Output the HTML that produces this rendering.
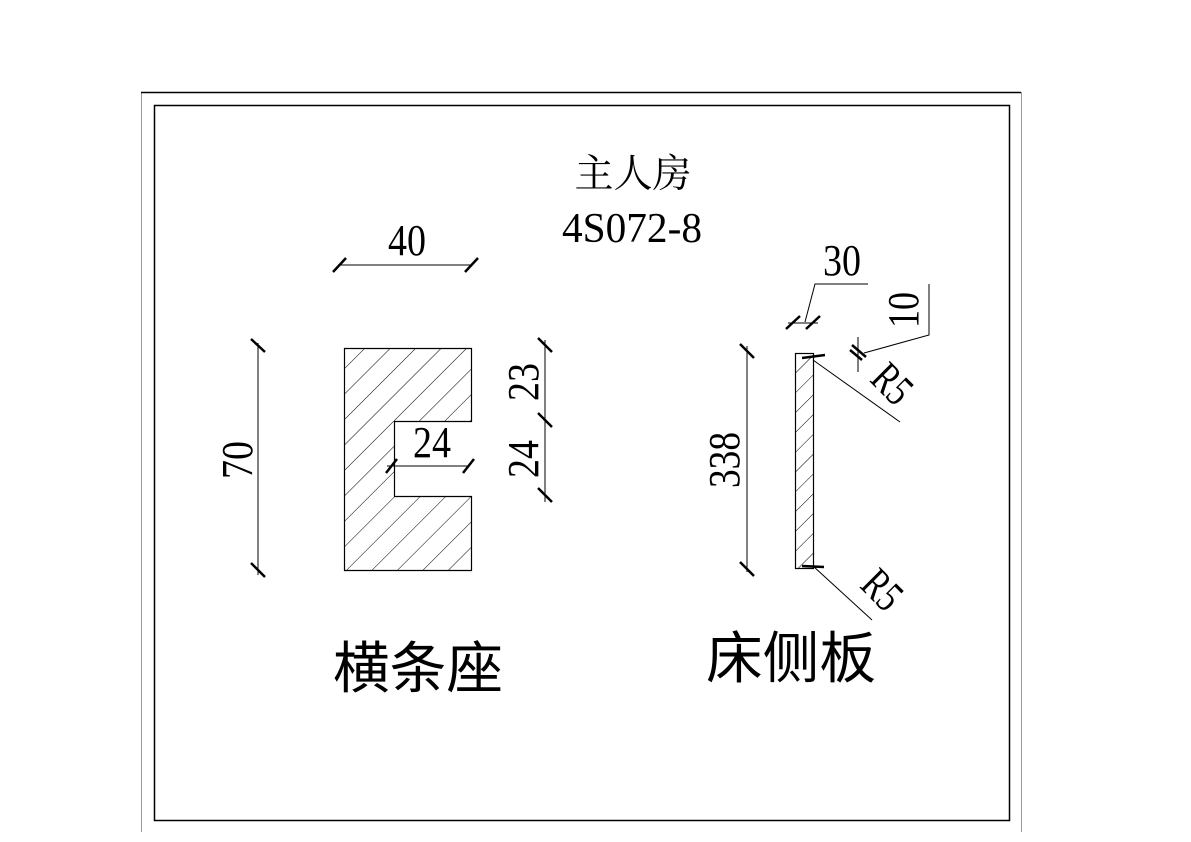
<!DOCTYPE html>
<html><head><meta charset="utf-8"><style>
html,body{margin:0;padding:0;background:#fff;}
svg{display:block;}
.d{font-family:"Liberation Serif",serif;font-size:44px;fill:#000;}
.c{font-family:"Liberation Serif","Noto Serif CJK SC",serif;fill:#000;}
.s{font-family:"Liberation Sans","Noto Sans CJK SC",sans-serif;fill:#000;}
</style></head><body>
<svg width="1191" height="842" viewBox="0 0 1191 842" xmlns="http://www.w3.org/2000/svg">
<defs>
<pattern id="h1" patternUnits="userSpaceOnUse" width="18" height="18" patternTransform="rotate(45)">
<line x1="0" y1="0" x2="0" y2="18" stroke="#000" stroke-width="1"/>
</pattern>
<pattern id="h2" patternUnits="userSpaceOnUse" width="14" height="14" patternTransform="rotate(45)">
<line x1="0" y1="0" x2="0" y2="14" stroke="#000" stroke-width="1"/>
</pattern>
</defs>
<path d="M141.5 832 V92.5 H1021.5 V832" fill="none" stroke="#999" stroke-width="1"/>
<line x1="141" y1="92.5" x2="1021" y2="92.5" stroke="#000" stroke-width="1.5"/>
<rect x="154.5" y="105.5" width="855" height="715" fill="none" stroke="#000" stroke-width="1.5"/>

<text class="c" x="633" y="187" font-size="39" text-anchor="middle" textLength="117" lengthAdjust="spacingAndGlyphs">主人房</text>
<text class="c" x="632" y="242" font-size="42" text-anchor="middle" textLength="140" lengthAdjust="spacingAndGlyphs">4S072-8</text>

<path d="M344.5 348.5 H471.5 V421.5 H394.5 V496.5 H471.5 V570.5 H344.5 Z" fill="url(#h1)" stroke="#000" stroke-width="1.2"/>
<line x1="338" y1="265" x2="472" y2="265" stroke="#000"/>
<line x1="333" y1="272" x2="346" y2="258" stroke="#000" stroke-width="2.5"/>
<line x1="465" y1="272" x2="478" y2="258" stroke="#000" stroke-width="2.5"/>
<text class="d" x="407" y="255" text-anchor="middle" textLength="38" lengthAdjust="spacingAndGlyphs">40</text>
<line x1="258" y1="343" x2="258" y2="575" stroke="#000"/>
<line x1="251" y1="339" x2="265" y2="352" stroke="#000" stroke-width="2.5"/>
<line x1="251" y1="563" x2="265" y2="577" stroke="#000" stroke-width="2.5"/>
<text class="d" transform="translate(252,460) rotate(-90)" text-anchor="middle" textLength="38" lengthAdjust="spacingAndGlyphs">70</text>
<line x1="545" y1="340" x2="545" y2="502" stroke="#000"/>
<line x1="538" y1="338" x2="552" y2="352" stroke="#000" stroke-width="2.5"/>
<line x1="538" y1="413" x2="552" y2="427" stroke="#000" stroke-width="2.5"/>
<line x1="538" y1="488" x2="552" y2="502" stroke="#000" stroke-width="2.5"/>
<text class="d" transform="translate(538,382) rotate(-90)" text-anchor="middle" textLength="38" lengthAdjust="spacingAndGlyphs">23</text>
<text class="d" transform="translate(538,459) rotate(-90)" text-anchor="middle" textLength="38" lengthAdjust="spacingAndGlyphs">24</text>
<line x1="387" y1="466" x2="468" y2="466" stroke="#000"/>
<line x1="386" y1="473" x2="397" y2="459" stroke="#000" stroke-width="2.5"/>
<line x1="463" y1="473" x2="474" y2="459" stroke="#000" stroke-width="2.5"/>
<text class="d" x="432" y="457" text-anchor="middle" textLength="38" lengthAdjust="spacingAndGlyphs">24</text>

<text class="s" x="418" y="688" font-size="56" text-anchor="middle" textLength="170" lengthAdjust="spacingAndGlyphs">横条座</text>

<rect x="795.5" y="353.5" width="18" height="215" fill="url(#h2)" stroke="#000" stroke-width="1.2"/>
<line x1="747" y1="346" x2="747" y2="572" stroke="#000"/>
<line x1="740" y1="344" x2="754" y2="358" stroke="#000" stroke-width="2.5"/>
<line x1="740" y1="562" x2="754" y2="576" stroke="#000" stroke-width="2.5"/>
<text class="d" transform="translate(739,460) rotate(-90)" text-anchor="middle" textLength="56" lengthAdjust="spacingAndGlyphs">338</text>
<line x1="788" y1="323" x2="818" y2="323" stroke="#000"/>
<line x1="786" y1="329" x2="800" y2="316" stroke="#000" stroke-width="2.5"/>
<line x1="806" y1="329" x2="820" y2="316" stroke="#000" stroke-width="2.5"/>
<polyline points="805,322 815,284 868,284" fill="none" stroke="#000"/>
<text class="d" x="842" y="275" text-anchor="middle" textLength="38" lengthAdjust="spacingAndGlyphs">30</text>
<line x1="858" y1="337" x2="858" y2="372" stroke="#000"/>
<line x1="850" y1="350" x2="862" y2="360" stroke="#000" stroke-width="2.5"/>
<line x1="852" y1="345" x2="866" y2="357" stroke="#000" stroke-width="2.5"/>
<polyline points="864,353 929,335 929,284" fill="none" stroke="#000"/>
<text class="d" transform="translate(918,310) rotate(-90)" text-anchor="middle" textLength="36" lengthAdjust="spacingAndGlyphs">10</text>
<line x1="802" y1="358" x2="825" y2="355" stroke="#000" stroke-width="2.5"/>
<line x1="813" y1="360" x2="900" y2="422" stroke="#000"/>
<text class="d" transform="translate(882,394) rotate(45)" text-anchor="middle" textLength="38" lengthAdjust="spacingAndGlyphs">R5</text>
<line x1="802" y1="566" x2="824" y2="567" stroke="#000" stroke-width="2.5"/>
<line x1="813" y1="566" x2="872" y2="620" stroke="#000"/>
<text class="d" transform="translate(872,600) rotate(45)" text-anchor="middle" textLength="38" lengthAdjust="spacingAndGlyphs">R5</text>

<text class="s" x="791" y="678" font-size="56" text-anchor="middle" textLength="170" lengthAdjust="spacingAndGlyphs">床侧板</text>
</svg>
</body></html>
